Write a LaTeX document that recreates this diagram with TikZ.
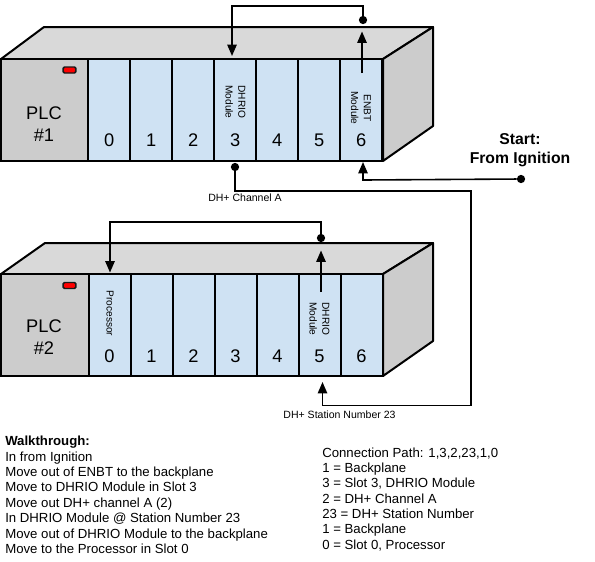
\documentclass[tikz,border=0pt]{standalone}
\usepackage{fontspec}
\setmainfont{Liberation Sans}
\usetikzlibrary{arrows.meta}
\definecolor{slotblue}{HTML}{CFE2F3}
\definecolor{facegrey}{HTML}{CCCCCC}
\definecolor{topgrey}{HTML}{D9D9D9}
\definecolor{ledred}{HTML}{FF0000}
\tikzset{
 px/.style={x=0.75pt,y=-0.75pt},
 slotbox/.style={draw=black,line width=1.5pt,fill=slotblue,minimum width=31.5pt,minimum height=76.5pt,inner sep=0pt,outer sep=0pt,anchor=north west},
 plcbox/.style={draw=black,line width=1.5pt,fill=facegrey,minimum width=66pt,minimum height=76.5pt,inner sep=0pt,outer sep=0pt,anchor=north west},
 plctext/.style={font=\fontsize{13.7}{16}\selectfont,align=center,inner sep=0pt},
 led/.style={draw=black!80!gray,line width=1.1pt,fill=ledred,rounded corners=1pt,minimum width=9.5pt,minimum height=4.5pt,inner sep=0pt},
 slotnum/.style={font=\fontsize{13.7}{16}\selectfont,inner sep=0pt},
 slotlabel/.style={font=\fontsize{7.6}{9.6}\selectfont,rotate=-90,align=center,inner sep=0pt},
 conn/.style={draw=black,line width=1.2pt},
 tipped/.style={conn,-{Triangle[length=8.5pt,width=7pt]}},
 dotnode/.style={circle,fill=black,minimum size=6.2pt,inner sep=0pt},
 caption/.style={font=\fontsize{7.9}{9}\selectfont,inner sep=0pt},
 bodytext/.style={font=\fontsize{9.9}{11}\selectfont,inner sep=0pt,anchor=base west},
 topface/.style={draw=black,line width=1.5pt,fill=topgrey,line join=round},
 sideface/.style={draw=black,line width=1.5pt,fill=facegrey,line join=round},
}
\begin{document}
\begin{tikzpicture}[px]
\useasboundingbox (0,0) rectangle (595,561);
% PLC 1
\draw[topface] (1,59) -- (44,27) -- (433,27) -- (383,59) -- cycle;
\draw[sideface] (383,59) -- (433,27) -- (433,126) -- (383,161) -- cycle;
\node[plcbox] (plcA) at (0.5,59) {};
\foreach \n/\x in {0/88,1/130,2/172,3/214,4/256,5/298,6/340}{
  \node[slotbox] (a\n) at (\x,59) {};
  \node[slotnum] (an\n) at (\x+21.3,140) {\n};
}
\node[plctext] (plcAt) at (44,124) {PLC\\\#1};
\node[led] (ledA) at (69.5,70) {};
\node[slotlabel] (dhrioA) at (235.5,102) {DHRIO\\Module};
\node[slotlabel] (enbtA) at (361,108) {ENBT\\Module};
% PLC 2
\draw[topface] (1,274) -- (45,243) -- (433,243) -- (383,274) -- cycle;
\draw[sideface] (383,274) -- (433,243) -- (433,341) -- (383,376) -- cycle;
\node[plcbox] (plcB) at (0.5,274) {};
\foreach \n/\x in {0/88.5,1/130.5,2/172.5,3/214.5,4/256.5,5/298.5,6/340.5}{
  \node[slotbox] (b\n) at (\x,274) {};
  \node[slotnum] (bn\n) at (\x+21,356) {\n};
}
\node[plctext] (plcBt) at (44,337) {PLC\\\#2};
\node[led] (ledB) at (69.5,285.5) {};
\node[slotlabel] (procB) at (110,313.5) {Processor};
\node[slotlabel] (dhrioB) at (319.5,319) {DHRIO\\Module};
% dots and way points
\node[dotnode] (dA) at (363,20) {};
\node[dotnode] (dC) at (235,167) {};
\node[dotnode] (dS) at (521,179) {};
\node[dotnode] (dB) at (321,238) {};
\coordinate (tA1) at (363,6); \coordinate (tA2) at (232,6); \coordinate (tA3) at (232,56);
\coordinate (uA1) at (362,73); \coordinate (uA2) at (362,31.5);
\coordinate (sA1) at (363,180); \coordinate (sA2) at (363,162);
\coordinate (cA1) at (235,191); \coordinate (cA2) at (471,191); \coordinate (cA3) at (471,405.5); \coordinate (cA4) at (322.5,405.5); \coordinate (cA5) at (322.5,382);
\coordinate (tB1) at (321,222); \coordinate (tB2) at (110,222); \coordinate (tB3) at (110,272.5);
\coordinate (uB1) at (321,292); \coordinate (uB2) at (321,250.5);
\draw[tipped] (dA) -- (tA1) -- (tA2) -- (tA3);
\draw[tipped] (uA1) -- (uA2);
\draw[tipped] (dS) -- (sA1) -- (sA2);
\draw[tipped] (dC) -- (cA1) -- (cA2) -- (cA3) -- (cA4) -- (cA5);
\draw[tipped] (dB) -- (tB1) -- (tB2) -- (tB3);
\draw[tipped] (uB1) -- (uB2);
% captions
\node[caption] (capA) at (245,198) {DH+ Channel A};
\node[caption] (capB) at (339.5,415) {DH+ Station Number 23};
\node[font=\bfseries\fontsize{11.8}{14.2}\selectfont,align=center,inner sep=0pt] (start) at (520,150) {Start:\\From Ignition};
% text
\node[bodytext] (w0) at (5,445) {\bfseries Walkthrough:};
\node[bodytext] (w1) at (5,461.5) {In from Ignition};
\node[bodytext] (w2) at (5,476.7) {Move out of ENBT to the backplane};
\node[bodytext] (w3) at (5,491.7) {Move to DHRIO Module in Slot 3};
\node[bodytext] (w4) at (5,507) {Move out DH+ channel A (2)};
\node[bodytext] (w5) at (5,522.5) {In DHRIO Module @ Station Number 23};
\node[bodytext] (w6) at (5,538) {Move out of DHRIO Module to the backplane};
\node[bodytext] (w7) at (5,553) {Move to the Processor in Slot 0};
\node[bodytext] (p0) at (322,457) {Connection Path: 1,3,2,23,1,0};
\node[bodytext] (p1) at (322,472) {1 = Backplane};
\node[bodytext] (p2) at (322,487.5) {3 = Slot 3, DHRIO Module};
\node[bodytext] (p3) at (322,503) {2 = DH+ Channel A};
\node[bodytext] (p4) at (322,518) {23 = DH+ Station Number};
\node[bodytext] (p5) at (322,533.5) {1 = Backplane};
\node[bodytext] (p6) at (322,549) {0 = Slot 0, Processor};
\end{tikzpicture}
\end{document}
